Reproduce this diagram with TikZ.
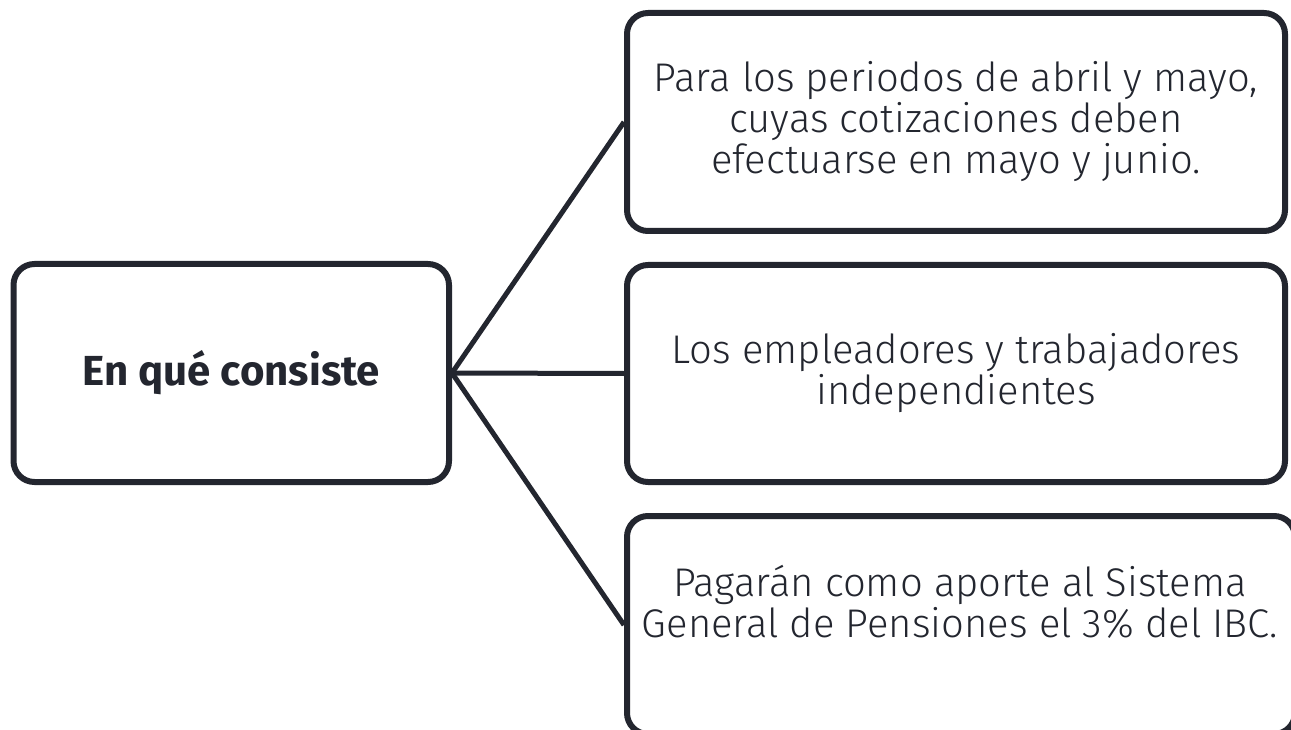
\documentclass[tikz,border=0pt]{standalone}
\usepackage{fontspec}
\newfontfamily\lightfont{Fira Sans Light}[FakeStretch=1.0]
\newfontfamily\boldfont{Fira Sans Bold}[FakeStretch=1.0]
\definecolor{ink}{HTML}{23262F}
\begin{document}
\begin{tikzpicture}[x=1pt,y=-1pt,
  box/.style={draw=ink,line width=6pt,rounded corners=21pt,fill=white,
    inner sep=0pt,text=ink,align=center,anchor=north west},
  body/.style={text=ink,align=center,font=\lightfont\fontsize{40}{41}\selectfont},
  link/.style={draw=ink,line width=5pt}]
\useasboundingbox (0,0) rectangle (1291,730);
\clip (0,0) rectangle (1291,730);
\node[box,minimum width=435.5pt,minimum height=218pt,font=\boldfont\fontsize{42}{41}\selectfont] (root) at (10.5,261) {En qué consiste};
\node[box,minimum width=658pt,minimum height=218pt,body] (a) at (624,10) {Para los periodos de abril y mayo,\\cuyas cotizaciones deben\\efectuarse en mayo y junio.};
\node[box,minimum width=658pt,minimum height=217pt,body] (b) at (624,262) {Los empleadores y trabajadores\\independientes};
\node[box,minimum width=668pt,minimum height=218pt] (c) at (624,513) {};
\node[body] (ct) at (960,602) {Pagarán como aporte al Sistema\\General de Pensiones el 3\% del IBC.};
\draw[link] (root.east) -- (a.west);
\draw[link] (root.east) -- (b.west);
\draw[link] (root.east) -- (c.west);
\end{tikzpicture}
\end{document}
